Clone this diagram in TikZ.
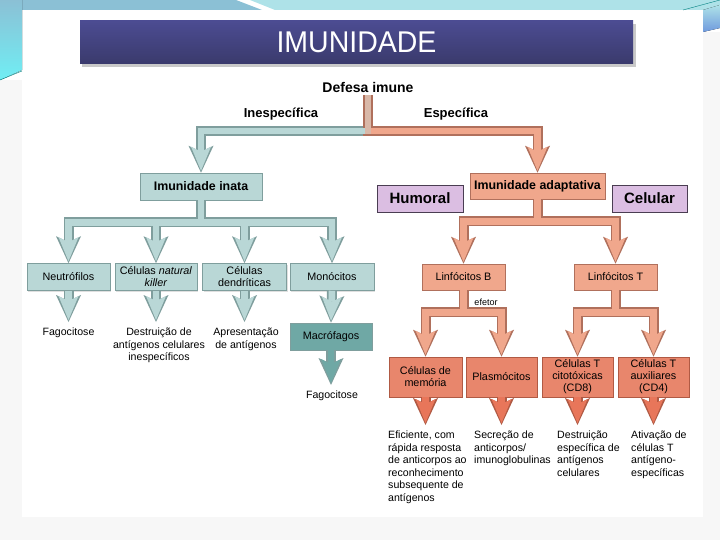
\documentclass[tikz,border=0pt]{standalone}
\usepackage{fontspec}
\setmainfont{Liberation Sans}
\usepackage{graphicx}
\usetikzlibrary{arrows.meta, shadows}

\definecolor{inatafill}{HTML}{B9D7D6}
\definecolor{inataline}{HTML}{7F9E9D}
\definecolor{macrofill}{HTML}{6FA8A5}
\definecolor{adaptfill}{HTML}{F0A78C}
\definecolor{adaptline}{HTML}{B0705C}
\definecolor{efetorfill}{HTML}{E8866C}
\definecolor{efetorseta}{HTML}{E8765A}
\definecolor{efetorline}{HTML}{B05A44}
\definecolor{tipofill}{HTML}{DBBEE2}
\definecolor{tipoline}{HTML}{4A3D52}
\definecolor{hastetan}{HTML}{D9B8A8}
\definecolor{titulotop}{HTML}{4C4C92}
\definecolor{titulobottom}{HTML}{3A3A6C}
\definecolor{faixaazul}{HTML}{8BC0D5}
\definecolor{faixaclara}{HTML}{AEE2E8}
\definecolor{cantociano}{HTML}{70EEF4}

\begin{document}
\begin{tikzpicture}[x=1pt, y=-1pt,
	caixa/.style={line width=0.6pt, minimum height=27pt, inner sep=1pt, align=center,
		font=\fontsize{10.8}{12}\selectfont,
		drop shadow={shadow xshift=1pt, shadow yshift=-1pt, opacity=0.25}},
	caixainata/.style={caixa, draw=inataline, fill=inatafill},
	caixaadapt/.style={caixa, draw=adaptline, fill=adaptfill},
	caixaefetor/.style={caixa, draw=efetorline, fill=efetorfill, minimum height=40pt},
	caixatipo/.style={draw=tipoline, fill=tipofill, line width=0.8pt, minimum height=27pt,
		font=\fontsize{15}{15}\selectfont\bfseries},
	resultado/.style={inner xsep=0pt, inner ysep=6pt, align=center,
		font=\fontsize{10.6}{12.5}\selectfont},
	rotulo/.style={font=\fontsize{13}{13}\selectfont\bfseries},
	tubo/.style={line width=10pt, draw=#1, line join=miter,
		-{Stealth[length=27pt, width=25pt, inset=6pt, line width=0pt]}},
	tubomiolo/.style={line width=6.5pt, draw=#1, line join=miter, shorten >=2pt,
		-{Stealth[length=24pt, width=20pt, inset=5pt, line width=0pt]}}]
	\useasboundingbox (0,0) rectangle (720,540);
	% slide background
	\fill[white] (0,0) rectangle (720,540);
	\fill[gray!6] (0,80) rectangle (22,540);
	\fill[gray!6] (22,517) rectangle (720,540);
	\fill[gray!6] (703,32) rectangle (720,540);
	\fill[faixaazul] (0,0) -- (236,0) -- (262,10) -- (0,10) -- cycle;
	\fill[faixaclara] (250,0) -- (720,0) -- (720,10) -- (275,10) -- cycle;
	\fill[top color=faixaazul, bottom color=cantociano] (0,0) -- (22,0) -- (22,70) -- (0,80) -- cycle;
	\draw[teal, thin] (0,80) -- (22,71);
	\fill[top color=faixaclara, bottom color=faixaazul!80!blue] (703,10) -- (720,5) -- (720,28) -- (703,32) -- cycle;
	\draw[teal, thin] (683,10) -- (720,0);
	% title
	\fill[gray!70, opacity=0.6] (82,24) rectangle (636,67);
	\node[top color=titulotop, bottom color=titulobottom, minimum width=553pt, minimum height=43pt,
		text=white] (titulo) at (356.5,42.5) {\scalebox{0.95}[1]{\fontsize{30}{30}\selectfont IMUNIDADE}};

	\node[font=\fontsize{14}{14}\selectfont\bfseries, inner sep=3pt] (defesa) at (368,87) {Defesa imune};
	\coordinate (topbar) at (368,131);
	\node[rotulo] (inesp) at (281,114) {Inespecífica};
	\node[rotulo] (esp) at (456,114) {Específica};

	\node[caixainata, minimum width=122pt, font=\fontsize{12.4}{14}\selectfont\bfseries] (inata) at (201,186.5) {Imunidade inata};
	\node[caixaadapt, minimum width=135pt, minimum height=26pt, font=\fontsize{12.4}{14}\selectfont\bfseries] (adapt) at (537.5,186) {Imunidade adaptativa};
	\node[caixatipo, minimum width=86pt] (humoral) at (420,198.5) {Humoral};
	\node[caixatipo, minimum width=75pt] (celular) at (649.5,198.5) {Celular};

	% innate branch
	\node[caixainata, minimum width=83pt] (neutro) at (68.5,277) {Neutrófilos};
	\node[caixainata, minimum width=82pt] (nk) at (156,277) {Células \textit{natural}\\\textit{killer}};
	\node[caixainata, minimum width=84pt] (dendri) at (244.5,277) {Células\\dendríticas};
	\node[caixainata, minimum width=84pt] (mono) at (332,277) {Monócitos};
	\node[caixainata, fill=macrofill, minimum width=82pt] (macro) at (331,336.5) {Macrófagos};
	\node[resultado, anchor=north] (fago1) at (68.5,322) {Fagocitose};
	\node[resultado, anchor=north] (destr) at (159,322) {Destruição de\\antígenos celulares\\inespecíficos};
	\node[resultado, anchor=north] (apres) at (246,322) {Apresentação\\de antígenos};
	\node[resultado, anchor=north] (fago2) at (332,385) {Fagocitose};

	% adaptive branch
	\node[caixaadapt, minimum width=83pt, minimum height=26pt] (linfb) at (463.5,277) {Linfócitos B};
	\node[caixaadapt, minimum width=83pt, minimum height=26pt] (linft) at (615.5,277) {Linfócitos T};
	\node[font=\fontsize{9}{9}\selectfont] (efetor) at (486,302) {efetor};
	\node[caixaefetor, minimum width=73pt] (memoria) at (425.5,377) {Células de\\memória};
	\node[caixaefetor, minimum width=71pt] (plasmo) at (501.5,377) {Plasmócitos};
	\node[caixaefetor, minimum width=71pt] (cd8) at (577.5,377) {Células T\\citotóxicas\\(CD8)};
	\node[caixaefetor, minimum width=71pt] (cd4) at (653.5,377) {Células T\\auxiliares\\(CD4)};
	\node[resultado, align=left, anchor=north west] (eficiente) at (388,425) {Eficiente, com\\rápida resposta\\de anticorpos ao\\reconhecimento\\subsequente de\\antígenos};
	\node[resultado, align=left, anchor=north west] (secrecao) at (474,425) {Secreção de\\anticorpos/\\imunoglobulinas};
	\node[resultado, align=left, anchor=north west] (destresp) at (557,425) {Destruição\\específica de\\antígenos\\celulares};
	\node[resultado, align=left, anchor=north west] (ativacao) at (631,425) {Ativação de\\células T\\antígeno-\\específicas};

	% fat connectors: outlines first
	\draw[tubo=inataline] (defesa.south) -- (topbar) -| (inata.north);
	\draw[tubo=adaptline] (defesa.south) -- (topbar) -| (adapt.north);
	\foreach \t in {neutro, nk, dendri, mono}
		\draw[tubo=inataline] (inata.south) -- ++(0,22) -| (\t.north);
	\foreach \a/\b in {neutro/fago1, nk/destr, dendri/apres, macro/fago2}
		\draw[tubo=inataline] (\a.south) -- (\a.south |- \b.north);
	\draw[tubo=inataline] (mono.south) -- (macro.north);
	\foreach \t in {linfb, linft}
		\draw[tubo=adaptline] (adapt.south) -- ++(0,22) -| (\t.north);
	\foreach \t in {memoria, plasmo}
		\draw[tubo=adaptline] (linfb.south) -- ++(0,22) -| (\t.north);
	\foreach \t in {cd8, cd4}
		\draw[tubo=adaptline] (linft.south) -- ++(0,22) -| (\t.north);
	\foreach \a/\b in {memoria/eficiente, plasmo/secrecao, cd8/destresp, cd4/ativacao}
		\draw[tubo=efetorline] (\a.south) -- (\a.south |- \b.north);

	% fat connectors: fill
	\draw[tubomiolo=inatafill] (defesa.south) -- (topbar) -| (inata.north);
	\draw[tubomiolo=adaptfill] (defesa.south) -- (topbar) -| (adapt.north);
	\draw[line width=6.5pt, draw=hastetan, shorten >=-3.25pt] (defesa.south) -- (topbar);
	\foreach \t in {neutro, nk, dendri, mono}
		\draw[tubomiolo=inatafill] (inata.south) -- ++(0,22) -| (\t.north);
	\foreach \a/\b in {neutro/fago1, nk/destr, dendri/apres}
		\draw[tubomiolo=inatafill] (\a.south) -- (\a.south |- \b.north);
	\draw[tubomiolo=inatafill] (mono.south) -- (macro.north);
	\draw[tubomiolo=macrofill] (macro.south) -- (macro.south |- fago2.north);
	\foreach \t in {linfb, linft}
		\draw[tubomiolo=adaptfill] (adapt.south) -- ++(0,22) -| (\t.north);
	\foreach \t in {memoria, plasmo}
		\draw[tubomiolo=adaptfill] (linfb.south) -- ++(0,22) -| (\t.north);
	\foreach \t in {cd8, cd4}
		\draw[tubomiolo=adaptfill] (linft.south) -- ++(0,22) -| (\t.north);
	\foreach \a/\b in {memoria/eficiente, plasmo/secrecao, cd8/destresp, cd4/ativacao}
		\draw[tubomiolo=efetorseta] (\a.south) -- (\a.south |- \b.north);
\end{tikzpicture}
\end{document}
